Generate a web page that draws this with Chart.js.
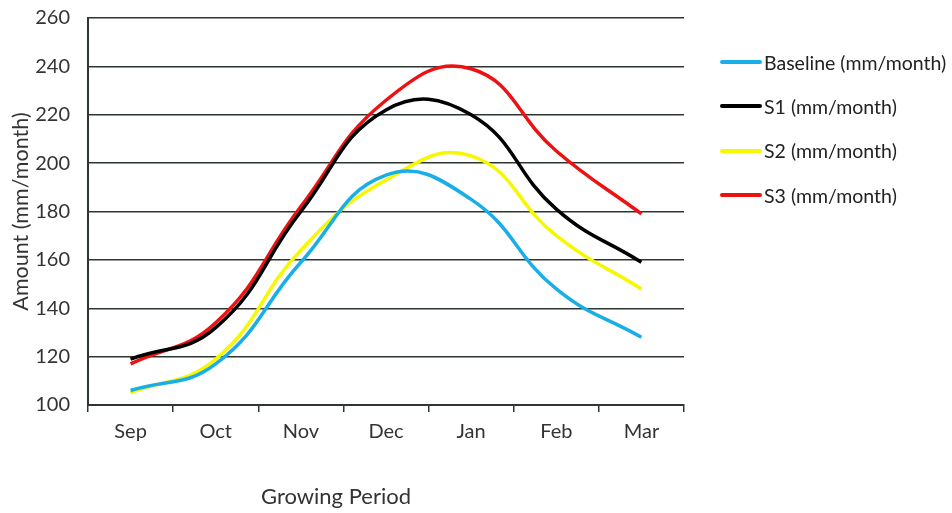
<!DOCTYPE html>
<html>
<head>
<meta charset="utf-8">
<script src="https://cdn.jsdelivr.net/npm/chart.js@4"></script>
<style>
  html, body { margin: 0; padding: 0; background: #fff; }
  #wrap { position: relative; width: 952px; height: 513px; }
  #legend { position: absolute; left: 720px; top: 40px; font-family: Lato, sans-serif; font-size: 19.5px; color: #222; }
  .item { display: flex; align-items: center; height: 44.3px; }
  .swatch { width: 42px; height: 4px; margin-right: 2px; border-radius: 2px; }
</style>
</head>
<body>
<div id="wrap">
  <canvas id="chart" width="952" height="513"></canvas>
  <div id="legend"></div>
</div>
<script>
// data
const months = ['Sep', 'Oct', 'Nov', 'Dec', 'Jan', 'Feb', 'Mar'];
const baseline = [106, 117, 159, 195, 185, 148, 128];
const s1 = [119, 132, 180, 222, 220, 181, 159];
const s2 = [105, 119, 164, 193, 203, 170, 148];
const s3 = [117, 134, 182, 226, 239, 205, 179];
const seriesNames = ['Baseline (mm/month)', 'S1 (mm/month)', 'S2 (mm/month)', 'S3 (mm/month)'];
const seriesColors = ['#19aee8', '#000000', '#f7f700', '#ee1111'];
const yTitle = 'Amount (mm/month)';
const xTitle = 'Growing Period';

const axisColor = '#2e3632';
const fontFamily = 'Lato, sans-serif';

const seriesData = [baseline, s1, s2, s3];

// legend in html, same look as the original
const legendEl = document.getElementById('legend');
seriesNames.forEach((name, i) => {
  const row = document.createElement('div');
  row.className = 'item';
  const sw = document.createElement('span');
  sw.className = 'swatch';
  sw.style.background = seriesColors[i];
  row.appendChild(sw);
  row.appendChild(document.createTextNode(name));
  legendEl.appendChild(row);
});

// x axis title sits left of centre in the original, so draw it by hand
const xTitlePlugin = {
  id: 'xTitle',
  afterDraw(chart) {
    const c = chart.ctx;
    c.save();
    c.font = '22px ' + fontFamily;
    c.fillStyle = '#333';
    c.textAlign = 'center';
    c.textBaseline = 'middle';
    c.fillText(xTitle, 336, 497);
    c.restore();
  }
};

const ctx = document.getElementById('chart');

const chart = new Chart(ctx, {
  type: 'line',
  data: {
    labels: months,
    datasets: seriesData.map((d, i) => ({
      label: seriesNames[i],
      data: d,
      borderColor: seriesColors[i],
      backgroundColor: seriesColors[i],
      borderWidth: 3.5,
      pointRadius: 0,
      tension: 0.45,
      fill: false
    }))
  },
  options: {
    responsive: false,
    animation: false,
    layout: { padding: { top: 18, right: 268, left: 0, bottom: 0 } },
    plugins: {
      legend: { display: false },
      tooltip: { enabled: false }
    },
    scales: {
      x: {
        offset: true,
        afterFit: (s) => { s.height = 108; s.paddingLeft = 0; s.paddingRight = 0; },
        grid: { offset: true, drawOnChartArea: false, tickLength: 7, color: axisColor, lineWidth: 1.5 },
        border: { color: axisColor, width: 2 },
        ticks: { color: '#333', font: { family: fontFamily, size: 20 }, padding: 8 }
      },
      y: {
        min: 100,
        max: 260,
        afterFit: (s) => { s.width = 88; s.paddingTop = 0; s.paddingBottom = 0; },
        ticks: { stepSize: 20, color: '#333', font: { family: fontFamily, size: 20 }, padding: 18 },
        grid: { color: axisColor, lineWidth: 1.5, drawTicks: false },
        border: { color: axisColor, width: 2 },
        title: {
          display: true,
          text: yTitle,
          color: '#333',
          font: { family: fontFamily, size: 21.5 },
          padding: { top: 8, bottom: 0 }
        }
      }
    }
  },
  plugins: [xTitlePlugin]
});
</script>
</body>
</html>
